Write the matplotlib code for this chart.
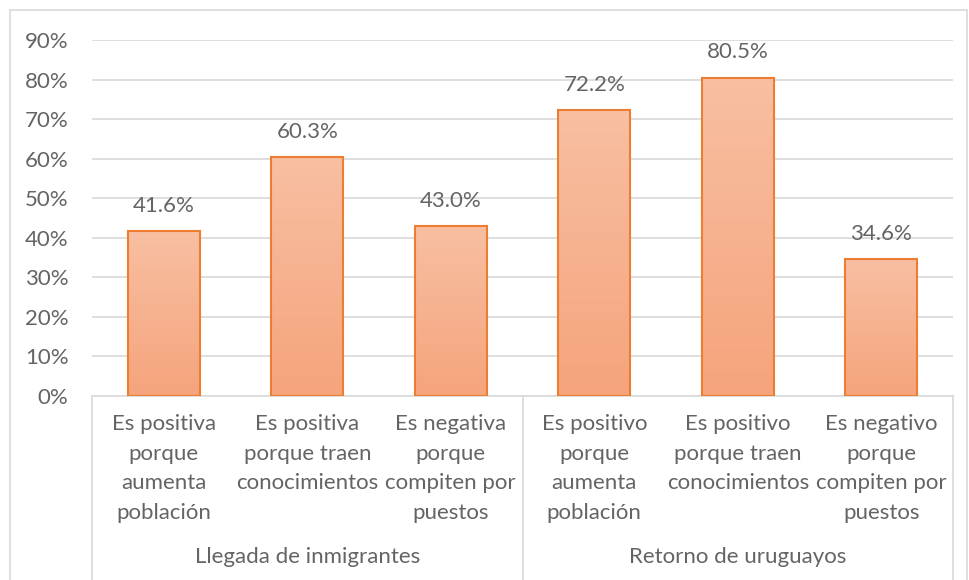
import matplotlib
matplotlib.use("Agg")
import matplotlib.pyplot as plt
import numpy as np
from matplotlib.colors import LinearSegmentedColormap
from matplotlib.patches import Rectangle

categories = [
    "Es positiva\nporque\naumenta\npoblación",
    "Es positiva\nporque traen\nconocimientos",
    "Es negativa\nporque\ncompiten por\npuestos",
    "Es positivo\nporque\naumenta\npoblación",
    "Es positivo\nporque traen\nconocimientos",
    "Es negativo\nporque\ncompiten por\npuestos",
]
groups = ["Llegada de inmigrantes", "Retorno de uruguayos"]
group_sizes = [3, 3]
values = [0.416, 0.603, 0.430, 0.722, 0.805, 0.346]
value_labels = ["41.6%", "60.3%", "43.0%", "72.2%", "80.5%", "34.6%"]
yticks = [0, 0.1, 0.2, 0.3, 0.4, 0.5, 0.6, 0.7, 0.8, 0.9]
ytick_labels = ["0%", "10%", "20%", "30%", "40%", "50%", "60%", "70%", "80%", "90%"]

W, H = 969, 580
plt.rcParams['font.family'] = ['Lato', 'DejaVu Sans']
txt_color = "#646464"
fs = 16

fig = plt.figure(figsize=(W / 100, H / 100), dpi=100)
ax = fig.add_axes([92 / W, (H - 396) / H, (953 - 92) / W, (396 - 40) / H])

x = np.arange(len(values))
bars = ax.bar(x, values, width=0.5, color="#F6B08E", edgecolor="#ED7D31", linewidth=1.5, zorder=3)

cmap = LinearSegmentedColormap.from_list("g", ["#F5A47C", "#F8BFA2"])
grad = np.linspace(0, 1, 256).reshape(-1, 1)
for b in bars:
    x0, y0 = b.get_x(), b.get_y()
    w, h = b.get_width(), b.get_height()
    im = ax.imshow(grad, cmap=cmap, origin="lower", aspect="auto",
                   extent=[x0, x0 + w, y0, y0 + h], zorder=2.5)
    im.set_clip_path(b)
    b.set_facecolor("none")

for xi, v, lab in zip(x, values, value_labels):
    ax.annotate(lab, (xi, v), xytext=(0, 11), textcoords="offset points",
                ha="center", va="bottom", fontsize=fs, color=txt_color)

ax.set_xlim(-0.5, len(values) - 0.5)
ax.set_ylim(0, 0.9)
ax.set_yticks(yticks)
ax.set_yticklabels(ytick_labels, fontsize=fs, color=txt_color)
ax.tick_params(axis="y", length=0, pad=17)
ax.set_xticks([])
ax.grid(axis="y", color="#D9D9D9", linewidth=1.2, zorder=0)
ax.set_axisbelow(True)
for s in ["top", "right", "left"]:
    ax.spines[s].set_visible(False)
ax.spines["bottom"].set_color("#D9D9D9")
ax.spines["bottom"].set_linewidth(1.2)

# category labels
trans = ax.get_xaxis_transform()
for xi, c in zip(x, categories):
    ax.text(xi, -18 / 356, c, transform=trans, ha="center", va="top",
            fontsize=fs, color=txt_color, linespacing=1.6)

# group labels and separators
start = 0
bounds = [-0.5]
for g, n in zip(groups, group_sizes):
    center = start + (n - 1) / 2
    ax.text(center, -(557 - 396) / 356, g, transform=trans, ha="center", va="center",
            fontsize=fs, color=txt_color)
    start += n
    bounds.append(start - 0.5)
for bx in bounds:
    ax.plot([bx, bx], [0, -(600 - 396) / 356], transform=trans, color="#D9D9D9",
            linewidth=1.2, clip_on=False)

# outer chart border
fig.patches.append(Rectangle((10 / W, -0.1), (967 - 10) / W, (H - 10) / H + 0.1,
                             transform=fig.transFigure, fill=False,
                             edgecolor="#D9D9D9", linewidth=1.2))

fig.savefig("out.png", dpi=100)
